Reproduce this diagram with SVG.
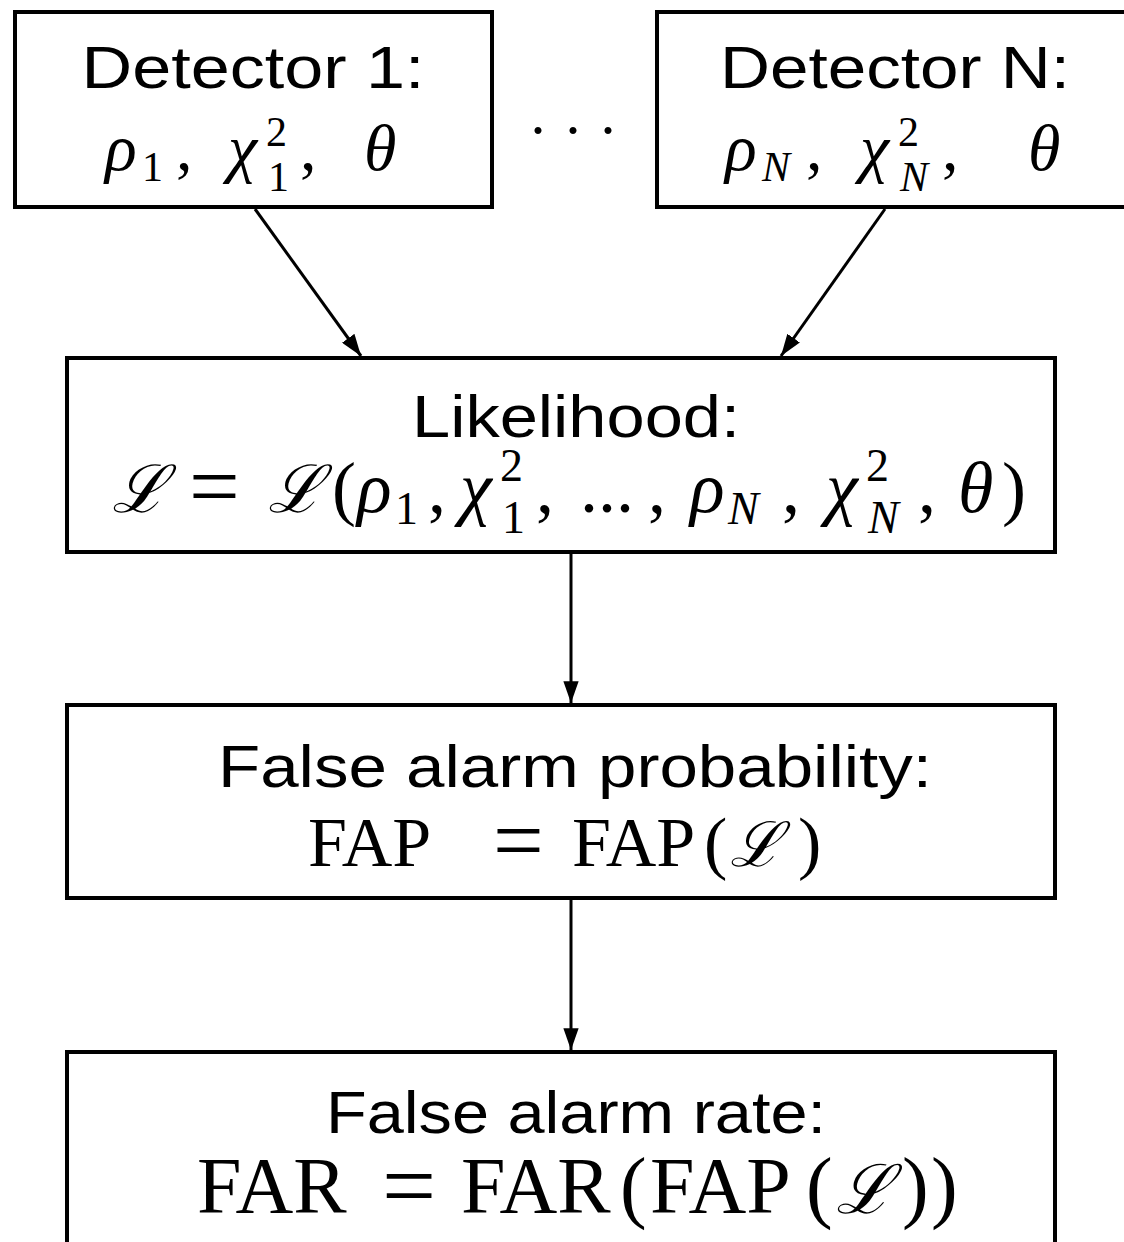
<svg xmlns="http://www.w3.org/2000/svg" width="1124" height="1242" viewBox="0 0 1124 1242">
<defs>
<style>
.box{fill:#fff;stroke:#000;stroke-width:4}
.lbl{font-family:"Liberation Sans",Arial,sans-serif;font-size:60px;fill:#000;text-anchor:middle}
.m{font-family:"Liberation Serif","Times New Roman",serif;fill:#000}
.m1{font-size:66px}
.m2{font-size:72px}
.m3{font-size:70px}
.m4{font-size:80px}
.i{font-style:italic}
.s{font-size:42px;font-style:normal}
.si{font-size:42px;font-style:italic}
.s2{font-size:46px;font-style:normal}
.si2{font-size:46px;font-style:italic}
.L{font-family:"DejaVu Serif","Liberation Serif",serif;font-style:italic}
.conn{stroke:#000;stroke-width:3;fill:none;marker-end:url(#ah)}
</style>
<marker id="ah" viewBox="0 0 10 7" refX="10" refY="3.5" markerWidth="7.3" markerHeight="5.1" markerUnits="strokeWidth" orient="auto">
<path d="M0,0 L10,3.5 L0,7 z" fill="#000"/>
</marker>
</defs>
<rect width="1124" height="1242" fill="#fff"/>

<g id="connectors">
<line class="conn" x1="255" y1="209" x2="361" y2="356"/>
<line class="conn" x1="885" y1="209" x2="781" y2="356"/>
<line class="conn" x1="571" y1="553" x2="571" y2="703"/>
<line class="conn" x1="571" y1="899" x2="571" y2="1050"/>
</g>

<g id="det1">
<rect class="box" x="15" y="12" width="477" height="195"/>
<text class="lbl" x="253" y="88" textLength="343" lengthAdjust="spacingAndGlyphs">Detector 1:</text>
<text class="m m1" y="170"><tspan class="i" x="105">ρ</tspan><tspan class="s" x="142" y="181">1</tspan><tspan x="176" y="170">,</tspan><tspan class="i" x="228">χ</tspan><tspan class="s" x="266" y="146">2</tspan><tspan class="s" x="268" y="191">1</tspan><tspan x="300" y="170">,</tspan><tspan class="i" x="364">θ</tspan></text>
</g>

<g id="dots">
<text x="573" y="150" font-family="Liberation Serif,serif" font-size="60" text-anchor="middle">· · ·</text>
</g>

<g id="detN">
<rect class="box" x="657" y="12" width="475" height="195"/>
<text class="lbl" x="895" y="88" textLength="350" lengthAdjust="spacingAndGlyphs">Detector N:</text>
<text class="m m1" y="170"><tspan class="i" x="725">ρ</tspan><tspan class="si" x="762" y="181">N</tspan><tspan x="806" y="170">,</tspan><tspan class="i" x="860">χ</tspan><tspan class="s" x="898" y="146">2</tspan><tspan class="si" x="900" y="191">N</tspan><tspan x="942" y="170">,</tspan><tspan class="i" x="1028">θ</tspan></text>
</g>

<g id="likelihood">
<rect class="box" x="67" y="358" width="988" height="194"/>
<text class="lbl" x="576" y="437" textLength="328" lengthAdjust="spacingAndGlyphs">Likelihood:</text>
<text class="m m2" y="512"><tspan class="L" x="112" font-size="66">ℒ</tspan><tspan x="189" y="517" font-size="90">=</tspan><tspan class="L" x="268" y="512" font-size="66">ℒ</tspan><tspan x="332">(</tspan><tspan class="i" x="357">ρ</tspan><tspan class="s2" x="395" y="524">1</tspan><tspan x="428" y="512">,</tspan><tspan class="i" x="460">χ</tspan><tspan class="s2" x="500" y="481">2</tspan><tspan class="s2" x="502" y="533">1</tspan><tspan x="536" y="512">,</tspan><tspan x="580">...</tspan><tspan x="648">,</tspan><tspan class="i" x="690">ρ</tspan><tspan class="si2" x="728" y="524">N</tspan><tspan x="782" y="512">,</tspan><tspan class="i" x="826">χ</tspan><tspan class="s2" x="866" y="481">2</tspan><tspan class="si2" x="868" y="533">N</tspan><tspan x="918" y="512">,</tspan><tspan class="i" x="958">θ</tspan><tspan x="1002">)</tspan></text>
</g>

<g id="fap">
<rect class="box" x="67" y="705" width="988" height="193"/>
<text class="lbl" x="575" y="787" textLength="714" lengthAdjust="spacingAndGlyphs">False alarm probability:</text>
<text class="m m3" y="866"><tspan x="308">FAP</tspan><tspan x="493" y="871" font-size="90">=</tspan><tspan x="572" y="866">FAP</tspan><tspan x="704">(</tspan><tspan class="L" x="730" font-size="62">ℒ</tspan><tspan x="798">)</tspan></text>
</g>

<g id="far">
<rect class="box" x="67" y="1052" width="988" height="200"/>
<text class="lbl" x="576" y="1133" textLength="500" lengthAdjust="spacingAndGlyphs">False alarm rate:</text>
<text class="m m4" y="1213"><tspan x="197">FAR</tspan><tspan x="382" y="1218" font-size="96">=</tspan><tspan x="461" y="1213">FAR</tspan><tspan x="620">(</tspan><tspan x="650">FAP</tspan><tspan x="806">(</tspan><tspan class="L" x="836" font-size="68">ℒ</tspan><tspan x="902">)</tspan><tspan x="931">)</tspan></text>
</g>
</svg>
